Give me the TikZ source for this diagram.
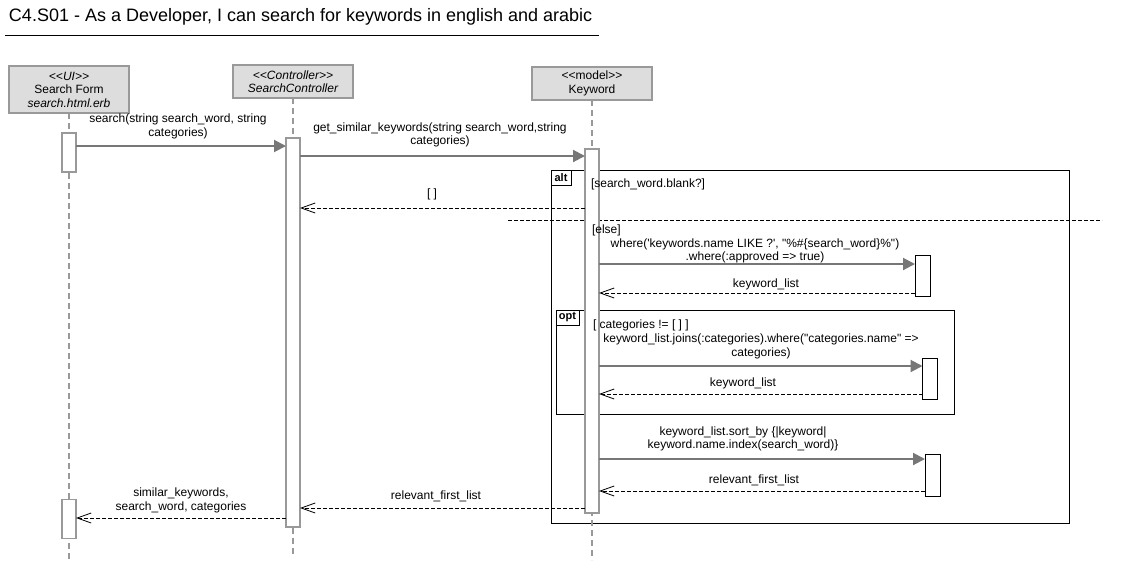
\documentclass[tikz,border=0pt]{standalone}
\usepackage{fontspec}
\newfontfamily\lsans{Liberation Sans}
\usetikzlibrary{arrows.meta}
\definecolor{llfill}{HTML}{DDDDDD}
\definecolor{llgray}{HTML}{999999}
\definecolor{msggray}{HTML}{777777}
\begin{document}
\begin{tikzpicture}[x=1pt,y=-1pt,
  every node/.style={font=\lsans\fontsize{12}{13.5}\selectfont, inner sep=0pt, outer sep=0pt},
  headbox/.style={rectangle, draw=llgray, fill=llfill, line width=1.5pt, align=center},
  lifeline/.style={draw=llgray, line width=1.5pt, dash pattern=on 6pt off 4pt},
  actbox/.style={rectangle, draw=llgray, fill=white, line width=1.5pt, minimum width=14pt},
  subact/.style={rectangle, draw=black, fill=white, line width=1pt, minimum width=15pt},
  msg/.style={draw=msggray, line width=2pt, -{Triangle[length=12pt,width=12pt,fill=msggray]}},
  ret/.style={draw=black, line width=0.8pt, dash pattern=on 4pt off 2pt, -{Straight Barb[length=14pt,width=10pt]}},
  frame/.style={draw=black, line width=1pt, rectangle, anchor=north west},
  fraglabel/.style={draw=black, line width=1pt, fill=white, anchor=north west, font=\lsans\bfseries\fontsize{11}{12}\selectfont},
  lbl/.style={align=center},
  guard/.style={anchor=west}
]
\useasboundingbox (0,0) rectangle (1121,574);

% title
\node[anchor=west, font=\lsans\fontsize{18}{20}\selectfont] (title) at (9,17) {C4.S01 - As a Developer, I can search for keywords in english and arabic};
\coordinate (tl) at (5,35);
\coordinate (tr) at (599,35);
\draw[line width=1pt] (tl) -- (tr);

% frames
\node[frame, minimum width=518pt, minimum height=353pt] (alt) at (551,170) {};
\node[fraglabel, minimum width=20pt, minimum height=15pt] (altlbl) at (alt.north west) {alt};
\node[frame, minimum width=398pt, minimum height=104pt] (opt) at (556,310) {};
\node[fraglabel, minimum width=23pt, minimum height=15pt] (optlbl) at (opt.north west) {opt};
\coordinate (sepL) at (508,220);
\coordinate (sepR) at (1102,220);
\draw[black, line width=0.8pt, dash pattern=on 4pt off 2pt] (sepL) -- (sepR);

% lifeline heads
\node[headbox, minimum width=120pt, minimum height=47pt] (ui) at (69,89.5) {{\itshape <<UI>>}\\Search Form\\{\itshape search.html.erb}};
\node[headbox, minimum width=120pt, minimum height=33pt] (ctl) at (293,81.5) {\itshape <<Controller>>\\\itshape SearchController};
\node[headbox, minimum width=120pt, minimum height=33pt] (kw) at (592,83.5) {<<model>>\\Keyword};

\coordinate (uiEnd) at (69,562);
\coordinate (ctlEnd) at (293,555);
\coordinate (kwEnd) at (592,560);
\draw[lifeline] (ui.south) -- (uiEnd);
\draw[lifeline] (ctl.south) -- (ctlEnd);
\draw[lifeline] (kw.south) -- (kwEnd);

% activations
\node[actbox, minimum height=39pt] (uiA1) at (69,152.5) {};
\node[actbox, minimum height=39pt] (uiA2) at (69,519) {};
\node[actbox, minimum height=389pt] (ctA) at (293,332.5) {};
\node[actbox, minimum height=364pt] (kwA) at (592,331) {};
\node[subact, minimum height=41pt] (s1) at (922.5,276) {};
\node[subact, minimum height=41pt] (s2) at (930,378.5) {};
\node[subact, minimum height=42pt] (s3) at (932.5,475) {};

% guards (drawn over the activation)
\node[guard] (g1) at (591,184) {[search\_word.blank?]};
\node[guard] (g2) at (592,230) {[else]};
\node[guard] (g3) at (593,325) {[ categories != [ ] ]};

% message rows
\coordinate (y1) at (0,146);
\coordinate (y2) at (0,156);
\coordinate (y3) at (0,208);
\coordinate (y4) at (0,264);
\coordinate (y5) at (0,293);
\coordinate (y6) at (0,366);
\coordinate (y7) at (0,394);
\coordinate (y8) at (0,459);
\coordinate (y9) at (0,491);
\coordinate (y10) at (0,508);
\coordinate (y11) at (0,518);

\draw[msg] (uiA1.east |- y1) -- (ctA.west |- y1);
\node[lbl] (l1) at (178,126.5) {search(string search\_word, string\\categories)};

\draw[msg] (ctA.east |- y2) -- (kwA.west |- y2);
\node[lbl] (l2) at (440,135) {get\_similar\_keywords(string search\_word,string\\categories)};

\draw[ret] (kwA.west |- y3) -- (ctA.east |- y3);
\node[lbl] (l3) at (432,194) {[ ]};

\draw[msg] (kwA.east |- y4) -- (s1.west |- y4);
\node[lbl] (l4) at (755,251) {where('keywords.name LIKE ?', "\%\#\{search\_word\}\%")\\.where(:approved => true)};

\draw[ret] (s1.west |- y5) -- (kwA.east |- y5);
\node[lbl] (l5) at (766,284) {keyword\_list};

\draw[msg] (kwA.east |- y6) -- (s2.west |- y6);
\node[lbl] (l6) at (761,346.5) {keyword\_list.joins(:categories).where("categories.name" =>\\categories)};

\draw[ret] (s2.west |- y7) -- (kwA.east |- y7);
\node[lbl] (l7) at (743,383) {keyword\_list};

\draw[msg] (kwA.east |- y8) -- (s3.west |- y8);
\node[lbl] (l8) at (743,439) {keyword\_list.sort\_by \{|keyword|\\keyword.name.index(search\_word)\}};

\draw[ret] (s3.west |- y9) -- (kwA.east |- y9);
\node[lbl] (l9) at (754,480) {relevant\_first\_list};

\draw[ret] (kwA.west |- y10) -- (ctA.east |- y10);
\node[lbl] (l10) at (436,496) {relevant\_first\_list};

\draw[ret] (ctA.west |- y11) -- (uiA2.east |- y11);
\node[lbl] (l11) at (181,500.5) {similar\_keywords,\\search\_word, categories};
\end{tikzpicture}
\end{document}
